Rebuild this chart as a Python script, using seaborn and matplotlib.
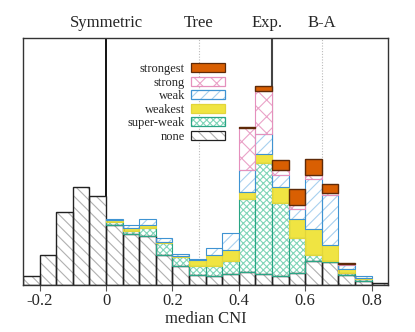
import numpy as np
import pandas as pd
import matplotlib
matplotlib.use('Agg')
import matplotlib.pyplot as plt
import matplotlib.patches as mpatches
import seaborn as sns

# bins of median CNI (width 0.05)
edges = np.linspace(-0.25, 0.85, 23)
centers = (edges[:-1] + edges[1:]) / 2

# stacked heights per category
none_h      = [9, 30, 73, 98, 88.6, 60, 51, 48.6, 30, 19, 10, 9.3, 11, 13, 11, 9.3, 12, 23.6, 23, 10, 4.3, 1.6]
superweak_h = [0, 0, 0, 0, 0, 2.6, 3.3, 8.4, 11.6, 9.3, 8.6, 9.3, 12.6, 72.6, 110.6, 72.7, 35, 6.4, 0.5, 1.6, 1.2, 0]
weakest_h   = [0, 0, 0, 0, 0, 2.4, 2.7, 2.6, 1.0, 0.7, 6.4, 11.4, 11.4, 7.4, 9.4, 16, 19.3, 25.6, 16.8, 4, 1, 0]
weak_h      = [0, 0, 0, 0, 0, 1.0, 3.3, 6.0, 4.4, 2.0, 1.0, 6.6, 17.3, 22, 19.3, 11.3, 9.7, 49.7, 49, 4, 2.1, 0]
strong_h    = [0, 0, 0, 0, 0, 0, 0, 0, 0, 0, 0, 0, 0, 41.6, 43.3, 5, 3.3, 4.3, 2.3, 1.4, 0, 0]
strongest_h = [0, 0, 0, 0, 0, 0, 0, 0, 0, 0, 0, 0, 0, 1.0, 5, 10.7, 16.3, 16.4, 8.7, 1.0, 0, 0]

categories = ['strongest', 'strong', 'weak', 'weakest', 'super-weak', 'none']
values = {'strongest': strongest_h, 'strong': strong_h, 'weak': weak_h,
          'weakest': weakest_h, 'super-weak': superweak_h, 'none': none_h}

# face, hatch colour, outline colour, hatch pattern
styles = {
    'strongest':  dict(face='#d95f02', hcol='#d95f02', edge='#5e2a08', hatch=None),
    'strong':     dict(face='white', hcol='#eaa3c8', edge='#e590bd', hatch='xx'),
    'weak':       dict(face='white', hcol='#a8d0ef', edge='#3f93d2', hatch='///'),
    'weakest':    dict(face='#f0e442', hcol='#f0e442', edge='#e2d53a', hatch=None),
    'super-weak': dict(face='white', hcol='#80d5b8', edge='#2aa585', hatch='xxxxx'),
    'none':       dict(face='white', hcol='#b0b0b0', edge='#222222', hatch='\\\\\\'),
}

rows = []
for cat in categories:
    for c, h in zip(centers, values[cat]):
        rows.append({'cni': c, 'cat': cat, 'h': h})
df = pd.DataFrame(rows)

sns.set_style('white')
plt.rcParams['font.family'] = ['Liberation Serif', 'DejaVu Serif']
plt.rcParams['hatch.linewidth'] = 0.8

fig = plt.figure(figsize=(4.15, 3.32), dpi=100)
ax = fig.add_axes([0.0554, 0.1416, 0.8801, 0.7439])

# reference lines
ax.axvline(0, color='black', lw=1.3, zorder=0)
ax.axvline(0.5, color='#444444', lw=1.5, zorder=0)
ax.axvline(0.28, color='#bbbbbb', lw=0.8, ls=(0, (1, 1.5)), zorder=0)
ax.axvline(0.65, color='#bbbbbb', lw=0.8, ls=(0, (1, 1.5)), zorder=0)


def match(cont):
    hs = np.array([b.get_height() for b in cont])
    for cat in categories:
        if len(hs) == len(values[cat]) and np.allclose(hs, values[cat], atol=1e-6):
            return cat
    return None


# pass 1: fills and hatches
sns.histplot(data=df, x='cni', weights='h', hue='cat', hue_order=categories,
             multiple='stack', bins=len(centers), binrange=(edges[0], edges[-1]),
             element='bars', legend=False, ax=ax, alpha=1, linewidth=0)
n_fill = len(ax.containers)
for cont in ax.containers[:n_fill]:
    cat = match(cont)
    st = styles[cat]
    for b in cont:
        b.set_facecolor(st['face'])
        b.set_edgecolor(st['hcol'])
        b.set_hatch(st['hatch'])
        b.set_linewidth(0)
        if b.get_height() <= 0:
            b.set_visible(False)

# pass 2: outlines
sns.histplot(data=df, x='cni', weights='h', hue='cat', hue_order=categories,
             multiple='stack', bins=len(centers), binrange=(edges[0], edges[-1]),
             element='bars', fill=False, legend=False, ax=ax, linewidth=0.9)
for cont in ax.containers[n_fill:]:
    cat = match(cont)
    st = styles[cat]
    for b in cont:
        b.set_edgecolor(st['edge'])
        b.set_linewidth(1.0 if cat in ('none', 'strongest') else 0.8)
        if b.get_height() <= 0:
            b.set_visible(False)

ax.set_xlim(-0.25, 0.85)
ax.set_ylim(0, 246.3)
ax.set_yticks([])
ax.set_ylabel('')
ax.set_xticks([-0.2, 0, 0.2, 0.4, 0.6, 0.8])
ax.set_xticklabels(['-0.2', '0', '0.2', '0.4', '0.6', '0.8'], fontsize=12)
ax.tick_params(axis='x', direction='out', length=4, width=0.8, color='#555555', pad=2, bottom=True)
ax.set_xlabel('median CNI', fontsize=12, labelpad=1)
for s in ax.spines.values():
    s.set_color('#333333')
    s.set_linewidth(1.0)

# labels above the plot
tops = [(0.0, 'Symmetric'), (0.28, 'Tree'), (0.485, 'Exp.'), (0.65, 'B-A')]
for xv, t in tops:
    ax.text(xv, 1.06, t, transform=ax.get_xaxis_transform(), ha='center',
            va='center', fontsize=12)

handles = []
for c in categories:
    st = styles[c]
    fill_p = mpatches.Patch(facecolor=st['face'], edgecolor=st['hcol'], hatch=st['hatch'], linewidth=0)
    line_p = mpatches.Patch(facecolor='none', edgecolor=st['edge'], linewidth=0.9)
    handles.append((fill_p, line_p))
ax.legend(handles, categories, loc='upper right', bbox_to_anchor=(0.567, 0.918),
          frameon=False, markerfirst=False, fontsize=9, handlelength=2.7,
          handleheight=0.75, labelspacing=0.12, handletextpad=0.5, borderaxespad=0)

plt.savefig('out.png', dpi=100)
